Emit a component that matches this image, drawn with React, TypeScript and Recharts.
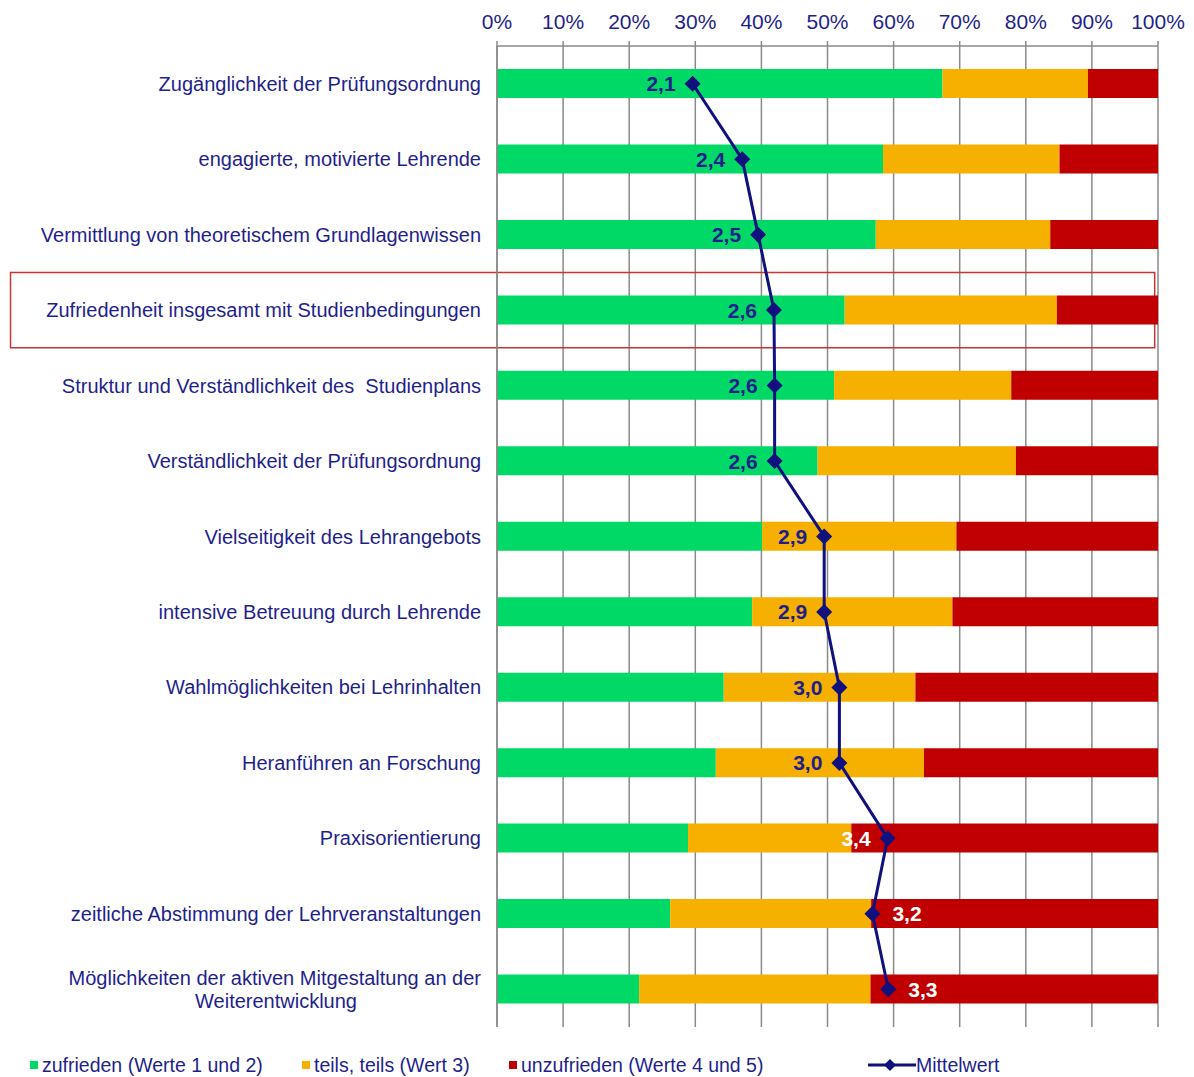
import React from 'react'
import {
  ComposedChart, Bar, Line, XAxis, YAxis, CartesianGrid, ReferenceArea,
} from 'recharts'

// ── Data ───────────────────────────────────────────────────────────────────

const CATEGORIES = [
  'Zugänglichkeit der Prüfungsordnung',
  'engagierte, motivierte Lehrende',
  'Vermittlung von theoretischem Grundlagenwissen',
  'Zufriedenheit insgesamt mit Studienbedingungen',
  'Struktur und Verständlichkeit des  Studienplans',
  'Verständlichkeit der Prüfungsordnung',
  'Vielseitigkeit des Lehrangebots',
  'intensive Betreuung durch Lehrende',
  'Wahlmöglichkeiten bei Lehrinhalten',
  'Heranführen an Forschung',
  'Praxisorientierung',
  'zeitliche Abstimmung der Lehrveranstaltungen',
  'Möglichkeiten der aktiven Mitgestaltung an der Weiterentwicklung',
]

// shares in percent
const ZUFRIEDEN   = [67.4, 58.4, 57.3, 52.6, 51.0, 48.5, 40.1, 38.6, 34.3, 33.1, 28.9, 26.2, 21.5]
const TEILS       = [22.0, 26.7, 26.4, 32.1, 26.8, 30.0, 29.4, 30.3, 29.0, 31.5, 24.7, 30.4, 35.0]
const UNZUFRIEDEN = [10.6, 14.9, 16.3, 15.3, 22.2, 21.5, 30.5, 31.1, 36.7, 35.4, 46.4, 43.4, 43.5]

// Mittelwert (label) and where its marker sits on the percent axis
const MITTELWERT     = [2.1, 2.4, 2.5, 2.6, 2.6, 2.6, 2.9, 2.9, 3.0, 3.0, 3.4, 3.2, 3.3]
const MITTELWERT_POS = [29.6, 37.1, 39.5, 41.9, 42.0, 42.0, 49.5, 49.5, 51.8, 51.8, 59.1, 56.8, 59.2]

const X_TICKS = [0, 10, 20, 30, 40, 50, 60, 70, 80, 90, 100]
const HIGHLIGHT = 'Zufriedenheit insgesamt mit Studienbedingungen'

const data = CATEGORIES.map((name, i) => ({
  name,
  zufrieden: ZUFRIEDEN[i],
  teils: TEILS[i],
  unzufrieden: UNZUFRIEDEN[i],
  mittelwert: MITTELWERT[i],
  pos: MITTELWERT_POS[i],
}))

// ── Styling ────────────────────────────────────────────────────────────────

const FONT = '"Liberation Sans", Arial, sans-serif'
const NAVY = '#1f1f8c'
const LINE = '#10107f'
const GREEN = '#00d966'
const ORANGE = '#f5b000'
const RED = '#c00000'
const GRID = '#8a8a8a'

function wrap(text: string, max = 48) {
  if (text.length <= max) return [text]
  const words = text.split(' ')
  const lines: string[] = []
  let cur = ''
  for (const w of words) {
    const next = cur ? cur + ' ' + w : w
    if (next.length > max && cur) { lines.push(cur); cur = w } else cur = next
  }
  if (cur) lines.push(cur)
  return lines
}

function CategoryTick(props: any) {
  const { x, y, payload } = props
  const lines = wrap(payload.value)
  const lh = 23
  const y0 = y - ((lines.length - 1) * lh) / 2
  return (
    <g>
      {lines.map((l, i) => (
        <text
          key={i}
          x={i === 0 ? x : x - 124}
          y={y0 + i * lh}
          textAnchor="end"
          dominantBaseline="central"
          fontFamily={FONT}
          fontSize={20}
          fill={NAVY}
          style={{ whiteSpace: 'pre' }}
        >
          {l}
        </text>
      ))}
    </g>
  )
}

function Diamond(props: any) {
  const { cx, cy } = props
  if (cx == null || cy == null) return null
  const r = 8
  return <path d={`M${cx},${cy - r} L${cx + r},${cy} L${cx},${cy + r} L${cx - r},${cy} Z`} fill={LINE} />
}

function MeanLabel(props: any) {
  const { x, y, index } = props
  const v = MITTELWERT[index]
  const right = index >= 11
  const white = v > 3.1
  return (
    <text
      x={right ? x + 20 : x - 17}
      y={y}
      textAnchor={right ? 'start' : 'end'}
      dominantBaseline="central"
      fontFamily={FONT}
      fontSize={21}
      fontWeight="bold"
      fill={white ? '#ffffff' : NAVY}
    >
      {v.toFixed(1).replace('.', ',')}
    </text>
  )
}

function LegendRow() {
  const item = (color: string, label: string, left: number) => (
    <div style={{ position: 'absolute', left, top: 0, display: 'flex', alignItems: 'center', height: 24 }}>
      <span style={{ width: 8, height: 8, background: color, marginRight: 4, display: 'inline-block' }} />
      <span>{label}</span>
    </div>
  )
  return (
    <div style={{ position: 'absolute', left: 0, top: 1053, width: 1194, height: 24, fontFamily: FONT, fontSize: 19.5, color: NAVY }}>
      {item(GREEN, 'zufrieden (Werte 1 und 2)', 30)}
      {item(ORANGE, 'teils, teils (Wert 3)', 302)}
      {item(RED, 'unzufrieden (Werte 4 und 5)', 509)}
      <div style={{ position: 'absolute', left: 868, top: 0, display: 'flex', alignItems: 'center', height: 24 }}>
        <svg width={48} height={16}>
          <line x1={0} y1={8} x2={48} y2={8} stroke={LINE} strokeWidth={3} />
          <path d="M22,2 L28,8 L22,14 L16,8 Z" fill={LINE} />
        </svg>
        <span>Mittelwert</span>
      </div>
    </div>
  )
}

export default function App() {
  return (
    <div style={{ position: 'absolute', left: 0, top: 0, width: 1194, height: 1077, background: '#fff' }}>
      <ComposedChart
        width={1194}
        height={1040}
        data={data}
        layout="vertical"
        margin={{ top: 6, right: 36, left: 0, bottom: 13 }}
        barSize={29}
      >
        <CartesianGrid horizontal={false} stroke={GRID} strokeWidth={1.5} />
        <XAxis
          type="number"
          orientation="top"
          domain={[0, 100]}
          ticks={X_TICKS}
          height={40}
          tickFormatter={(v) => `${v}%`}
          tick={{ fontSize: 21, fill: NAVY, fontFamily: FONT }}
          tickSize={5}
          tickMargin={12}
          axisLine={{ stroke: GRID, strokeWidth: 1.5 }}
          tickLine={{ stroke: GRID, strokeWidth: 1.5 }}
        />
        <YAxis
          type="category"
          dataKey="name"
          width={497}
          interval={0}
          tick={<CategoryTick />}
          tickSize={0}
          tickMargin={16}
          axisLine={{ stroke: GRID, strokeWidth: 1.5 }}
          tickLine={false}
        />
        <ReferenceArea
          x1={-73.6}
          x2={99.5}
          y1={HIGHLIGHT}
          y2={HIGHLIGHT}
          ifOverflow="visible"
          fill="none"
          fillOpacity={0}
          stroke="#cc3333"
          strokeWidth={1.5}
        />
        <Bar dataKey="zufrieden" stackId="a" fill={GREEN} isAnimationActive={false} />
        <Bar dataKey="teils" stackId="a" fill={ORANGE} isAnimationActive={false} />
        <Bar dataKey="unzufrieden" stackId="a" fill={RED} isAnimationActive={false} />
        <Line
          dataKey="pos"
          stroke={LINE}
          strokeWidth={3}
          dot={<Diamond />}
          activeDot={false}
          label={<MeanLabel />}
          isAnimationActive={false}
        />
      </ComposedChart>
      <LegendRow />
    </div>
  )
}
